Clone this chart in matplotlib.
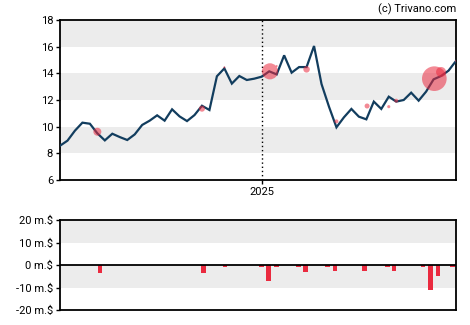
import matplotlib
matplotlib.use("Agg")
import matplotlib.pyplot as plt

plt.rcParams['font.family'] = ['Roboto', 'DejaVu Sans']

# Weekly closing prices (week index 0..53)
prices = [8.57, 8.95, 9.70, 10.30, 10.22, 9.50, 8.97, 9.47, 9.22, 9.00,
          9.42, 10.13, 10.45, 10.85, 10.45, 11.30, 10.77, 10.42, 10.87, 11.57,
          11.25, 13.78, 14.37, 13.23, 13.80, 13.50, 13.60, 13.75, 14.15, 13.92,
          15.35, 14.05, 14.47, 14.47, 16.05, 13.20, 11.50, 9.95, 10.70, 11.33,
          10.75, 10.55, 11.88, 11.33, 12.25, 11.88, 12.00, 12.55, 11.95, 12.63,
          13.55, 13.80, 14.20, 14.93]

# Insider trades on the price chart: week, price, marker size
trade_weeks = [5.0, 19.0, 22.0, 28.1, 29.0, 33.0, 37.0, 41.1, 44.0, 45.0, 50.1, 51.0, 53.0]
trade_prices = [9.62, 11.35, 14.45, 14.15, 14.55, 14.30, 10.40, 11.55, 11.50, 11.95, 13.60, 14.10, 14.93]
trade_sizes = [33, 19, 2, 135, 2, 22, 8, 13, 5, 8, 315, 52, 2]

# Net insider transactions (million $)
flow_weeks = [5.37, 19.2, 22.1, 27.0, 27.9, 29.0, 31.9, 32.9, 35.8, 36.8,
              40.8, 43.8, 44.7, 48.6, 49.6, 50.6, 52.5]
flow_values = [-3.4, -3.4, -0.7, -0.7, -7.0, -0.7, -0.7, -3.0, -0.7, -2.5,
               -2.5, -1.0, -2.5, -0.7, -11.0, -4.8, -1.0]

year_mark = 27.05
year_label = "2025"

price_ticks = [6, 8, 10, 12, 14, 16, 18]
flow_ticks = [-20, -10, 0, 10, 20]
flow_labels = ["-20 m.$", "-10 m.$", "0 m.$", "10 m.$", "20 m.$"]

line_color = "#123d5e"
red = "#ea2a3f"
band = "#ececec"

fig = plt.figure(figsize=(4.7, 3.25), dpi=100)
ax = fig.add_axes([60/470, 1-180/325, 396/470, 160/325])
bx = fig.add_axes([60/470, 1-310/325, 396/470, 90/325])

n = len(prices)
weeks = list(range(n))

# Price panel
for lo in (8, 12, 16):
    ax.axhspan(lo, lo + 2, color=band, lw=0, zorder=0)
ax.axvline(year_mark, color="black", ls=(0, (1, 2)), lw=1, zorder=1)
ax.plot(weeks, prices, color=line_color, lw=1.6, zorder=3, solid_joinstyle="miter")
ax.scatter(trade_weeks, trade_prices, s=trade_sizes, color=red, alpha=0.55,
           lw=0, zorder=4)
ax.set_xlim(0, n - 1)
ax.set_ylim(6, 18)
ax.set_yticks(price_ticks)
ax.set_xticks([year_mark])
ax.set_xticklabels([year_label])

# Transactions panel
bx.axhspan(10, 20, color=band, lw=0, zorder=0)
bx.axhspan(-10, 0, color=band, lw=0, zorder=0)
bx.bar(flow_weeks, flow_values, width=0.63, color=red, zorder=2)
bx.axhline(0, color="black", lw=1.3, zorder=3)
bx.set_xlim(0, n - 1)
bx.set_ylim(-20, 20)
bx.set_yticks(flow_ticks)
bx.set_yticklabels(flow_labels)
bx.set_xticks([])

for a in (ax, bx):
    for s in a.spines.values():
        s.set_linewidth(1.3)
        s.set_color("black")
    a.tick_params(axis="both", labelsize=8, length=3, width=1, pad=2, colors="black")

fig.text(456/470, 1-9/325, "(c) Trivano.com", ha="right", va="center", fontsize=8)

fig.savefig("out.png", dpi=100)
